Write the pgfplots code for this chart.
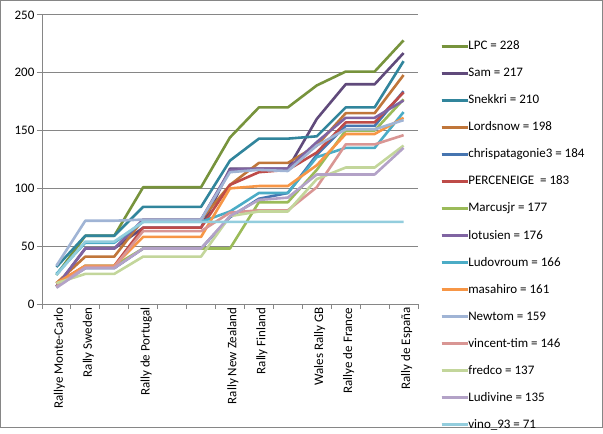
\documentclass[border=0pt]{standalone}
\usepackage{pgfplots}
\pgfplotsset{compat=1.18}
\usepackage{fontspec}
\setmainfont{Carlito}
\definecolor{cLPC}{HTML}{77933C}
\definecolor{cSam}{HTML}{604A7B}
\definecolor{cSnek}{HTML}{31859C}
\definecolor{cLord}{HTML}{C0763A}
\definecolor{cChris}{HTML}{4675B0}
\definecolor{cPerc}{HTML}{BE4B48}
\definecolor{cMarc}{HTML}{9BBB59}
\definecolor{cLotu}{HTML}{8064A2}
\definecolor{cLudo}{HTML}{4BACC6}
\definecolor{cMasa}{HTML}{F79646}
\definecolor{cNewt}{HTML}{A0B4D5}
\definecolor{cVinc}{HTML}{D99694}
\definecolor{cFred}{HTML}{C3D69B}
\definecolor{cLudi}{HTML}{B3A2C7}
\definecolor{cVino}{HTML}{93CDDD}
\definecolor{axgray}{HTML}{868686}
\begin{document}
\begin{tikzpicture}[x=1pt,y=1pt,font=\fontsize{13}{15}\selectfont]
\draw[axgray, line width=0.8pt] (0.5,0.5) rectangle (602.5,427.5);
\begin{axis}[
  at={(42pt,124pt)}, anchor=south west, scale only axis,
  width=376pt, height=289pt,
  xmin=0.5, xmax=13.5, ymin=0, ymax=250,
  axis lines*=left,
  axis line style={axgray, line width=0.8pt},
  xtick={1,...,13},
  xticklabels={Rallye Monte-Carlo, Rally Sweden, {}, Rally de Portugal, {}, {}, Rally New Zealand, Rally Finland, {}, Wales Rally GB, Rallye de France, {}, Rally de España},
  minor xtick={0.5,1.5,...,13.5},
  major tick length=0pt,
  minor tick length=5pt,
  ytick={0,50,...,250},
  extra y ticks={0,50,...,250}, extra y tick labels={},
  extra y tick style={major tick length=5pt, tick style={axgray, line width=0.8pt}, grid=none},
  tick align=outside,
  tick style={axgray, line width=0.8pt},
  ymajorgrids, grid style={axgray, line width=0.8pt},
  /pgf/number format/assume math mode=true,
  ticklabel style={font=\fontsize{13}{15}\selectfont},
  xticklabel style={rotate=90, anchor=east, yshift=-3pt},
  yticklabel style={xshift=-4pt},
  legend style={at={(1.0505,0.921)}, anchor=north west, draw=none, fill=none,
    font=\fontsize{13}{15}\selectfont, row sep=14pt,
    nodes={text height=10pt, text depth=3pt, inner sep=0pt, outer sep=0pt}},
  legend cell align=left,
  legend image code/.code={\draw[#1, line width=2.5pt, overlay] (0pt,0pt) -- (26pt,0pt); \path (0pt,0pt) -- (25.5pt,0pt);},
  every axis plot/.append style={line width=2.6pt, line join=round, no markers},
]
\addplot[cLPC] coordinates {(1,25)(2,59)(3,59)(4,101)(5,101)(6,101)(7,144)(8,170)(9,170)(10,189)(11,201)(12,201)(13,228)};
\addlegendentry{LPC = 228}
\addplot[cSam] coordinates {(1,15)(2,48)(3,48)(4,66)(5,66)(6,66)(7,117)(8,117)(9,117)(10,160)(11,190)(12,190)(13,217)};
\addlegendentry{Sam = 217}
\addplot[cSnek] coordinates {(1,32)(2,59)(3,59)(4,84)(5,84)(6,84)(7,124)(8,143)(9,143)(10,145)(11,170)(12,170)(13,210)};
\addlegendentry{Snekkri = 210}
\addplot[cLord] coordinates {(1,18)(2,41)(3,41)(4,73)(5,73)(6,73)(7,103)(8,122)(9,122)(10,137)(11,165)(12,165)(13,198)};
\addlegendentry{Lordsnow = 198}
\addplot[cChris] coordinates {(1,15)(2,31)(3,31)(4,48)(5,48)(6,48)(7,75)(8,91)(9,96)(10,129)(11,154)(12,154)(13,184)};
\addlegendentry{chrispatagonie3 = 184}
\addplot[cPerc] coordinates {(1,18)(2,33)(3,33)(4,66)(5,66)(6,66)(7,103)(8,114)(9,116)(10,131)(11,157)(12,157)(13,183)};
\addlegendentry{PERCENEIGE\ \ = 183}
\addplot[cMarc] coordinates {(1,15)(2,33)(3,33)(4,48)(5,48)(6,48)(7,48)(8,88)(9,88)(10,116)(11,150)(12,150)(13,177)};
\addlegendentry{Marcusjr = 177}
\addplot[cLotu] coordinates {(1,15)(2,48)(3,48)(4,73)(5,73)(6,73)(7,116)(8,117)(9,117)(10,140)(11,161)(12,161)(13,176)};
\addlegendentry{lotusien = 176}
\addplot[cLudo] coordinates {(1,26)(2,53)(3,53)(4,71)(5,71)(6,71)(7,80)(8,96)(9,96)(10,127)(11,135)(12,135)(13,166)};
\addlegendentry{Ludovroum = 166}
\addplot[cMasa] coordinates {(1,18)(2,33)(3,33)(4,58)(5,58)(6,58)(7,100)(8,102)(9,102)(10,120)(11,147)(12,147)(13,161)};
\addlegendentry{masahiro = 161}
\addplot[cNewt] coordinates {(1,33)(2,72)(3,72)(4,73)(5,73)(6,73)(7,114)(8,116)(9,115)(10,137)(11,151)(12,151)(13,159)};
\addlegendentry{Newtom = 159}
\addplot[cVinc] coordinates {(1,15)(2,32)(3,32)(4,63)(5,63)(6,63)(7,79)(8,81)(9,81)(10,101)(11,138)(12,138)(13,146)};
\addlegendentry{vincent-tim = 146}
\addplot[cFred] coordinates {(1,18)(2,26)(3,26)(4,41)(5,41)(6,41)(7,76)(8,80)(9,80)(10,108)(11,118)(12,118)(13,137)};
\addlegendentry{fredco = 137}
\addplot[cLudi] coordinates {(1,14)(2,31)(3,31)(4,48)(5,48)(6,48)(7,76)(8,90)(9,92)(10,112)(11,112)(12,112)(13,135)};
\addlegendentry{Ludivine = 135}
\addplot[cVino] coordinates {(1,25)(2,54)(3,54)(4,71)(5,71)(6,71)(7,71)(8,71)(9,71)(10,71)(11,71)(12,71)(13,71)};
\addlegendentry{vino\_93 = 71}
\end{axis}
\end{tikzpicture}
\end{document}
